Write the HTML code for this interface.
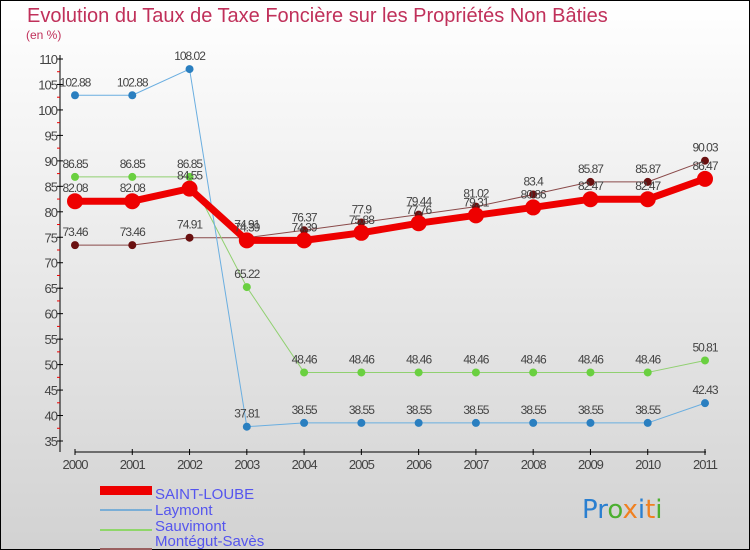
<!DOCTYPE html>
<html><head><meta charset="utf-8"><style>
body{margin:0;width:750px;height:550px;overflow:hidden;font-family:"Liberation Sans",sans-serif;}
svg{display:block}
</style></head><body>
<svg width="750" height="550" id="svg">
<defs><linearGradient id="bg" x1="0" y1="0" x2="0" y2="1"><stop offset="0" stop-color="#ffffff"/><stop offset="1" stop-color="#d2d2d2"/></linearGradient></defs>
<rect x="0.5" y="0.5" width="749" height="549" fill="url(#bg)" stroke="#000"/>
<text x="27" y="22" font-size="20" fill="#c0305a">Evolution du Taux de Taxe Foncière sur les Propriétés Non Bâties</text>
<text x="26" y="39" font-size="12" fill="#c0305a">(en %)</text>
<g id="axes"></g><g id="series"></g>
<g>
<rect x="100" y="486" width="52" height="9" fill="#e00"/>
<text x="155" y="499" font-size="15" fill="#5555ee">SAINT-LOUBE</text>
<line x1="100" y1="530" x2="152" y2="530" stroke="#7aaed6" stroke-width="2" transform="translate(0,-20)"/>
<text x="155" y="515" font-size="15" fill="#5555ee">Laymont</text>
<line x1="100" y1="550" x2="152" y2="550" stroke="#8fd66a" stroke-width="2" transform="translate(0,-20)"/>
<text x="155" y="531" font-size="15" fill="#5555ee">Sauvimont</text>
<line x1="100" y1="569" x2="152" y2="569" stroke="#9a6060" stroke-width="2" transform="translate(0,-20)"/>
<text x="155" y="546" font-size="15" fill="#5555ee">Montégut-Savès</text>
</g>
<text x="582" y="518" font-size="26" font-family="DejaVu Sans, sans-serif"><tspan fill="#2a7fd0">Pr</tspan><tspan fill="#4caf30">o</tspan><tspan fill="#f08020">x</tspan><tspan fill="#2a7fd0">i</tspan><tspan fill="#f08020">t</tspan><tspan fill="#4caf30">i</tspan></text>
</svg>
<script>
const years=[2000,2001,2002,2003,2004,2005,2006,2007,2008,2009,2010,2011];
const saintLoube=[82.08,82.08,84.55,74.39,74.39,75.88,77.76,79.31,80.86,82.47,82.47,86.47];
const laymont=[102.88,102.88,108.02,37.81,38.55,38.55,38.55,38.55,38.55,38.55,38.55,42.43];
const sauvimont=[86.85,86.85,86.85,65.22,48.46,48.46,48.46,48.46,48.46,48.46,48.46,50.81];
const montegut=[73.46,73.46,74.91,74.91,76.37,77.9,79.44,81.02,83.4,85.87,85.87,90.03];
const yTicks=[35,40,45,50,55,60,65,70,75,80,85,90,95,100,105,110];
const NS='http://www.w3.org/2000/svg';
const xS=i=>75+i*(630/11);
const yS=v=>441-(v-35)*(382/75);
function mk(tag,attrs,parent){const e=document.createElementNS(NS,tag);for(const k in attrs)e.setAttribute(k,attrs[k]);parent.appendChild(e);return e;}
const ax=document.getElementById('axes');
let l=mk('line',{x1:60,y1:55,x2:60,y2:452,stroke:'#000'},ax);


l=mk('line',{x1:75,y1:452,x2:706,y2:452,stroke:'#000'},ax);


yTicks.forEach(v=>{
 const t=mk('line',{x1:57,y1:yS(v),x2:63,y2:yS(v),stroke:'#000'},ax);
 
 
 if(v<110){const m=mk('line',{x1:57,y1:yS(v+2.5),x2:60,y2:yS(v+2.5),stroke:'#e00'},ax);
 
 }
 const tx=mk('text',{x:57,y:yS(v)+5,'font-size':13,fill:'#444','text-anchor':'end','letter-spacing':'-1'},ax);
 tx.textContent=v;
 
 
});
years.forEach((y,i)=>{
 const t=mk('line',{x1:xS(i),y1:449,x2:xS(i),y2:455,stroke:'#000'},ax);
 
 
 const tx=mk('text',{x:xS(i),y:469,'font-size':13,fill:'#444','text-anchor':'middle','letter-spacing':'-1'},ax);
 tx.textContent=y;
 
 
});
const sg=document.getElementById('series');
function series(vals,name,color,lw,r,fill){
 const g=mk('g',{},sg);
 
 
 const p=mk('polyline',{points:vals.map((v,i)=>xS(i)+','+yS(v)).join(' '),fill:'none',stroke:color,'stroke-width':lw,'stroke-linejoin':'round'},g);
 
 
 vals.forEach((v,i)=>{
  const c=mk('circle',{cx:xS(i),cy:yS(v),r:r,fill:fill},g);
  
  
  const t=mk('text',{x:xS(i),y:yS(v)-9,'font-size':12,fill:'#444','text-anchor':'middle','letter-spacing':'-1'},g);
  t.textContent=String(v);
  
  
 });
}
series(montegut,'montegut-saves','#8a4a4a',1,4,'#6a1010');
series(sauvimont,'sauvimont','#90d070',1,4,'#6ad040');
series(laymont,'laymont','#6aaee0',1,4,'#2a7fc0');
series(saintLoube,'saint-loube','#ee0000',7,8,'#ee0000');
</script>
</body></html>
